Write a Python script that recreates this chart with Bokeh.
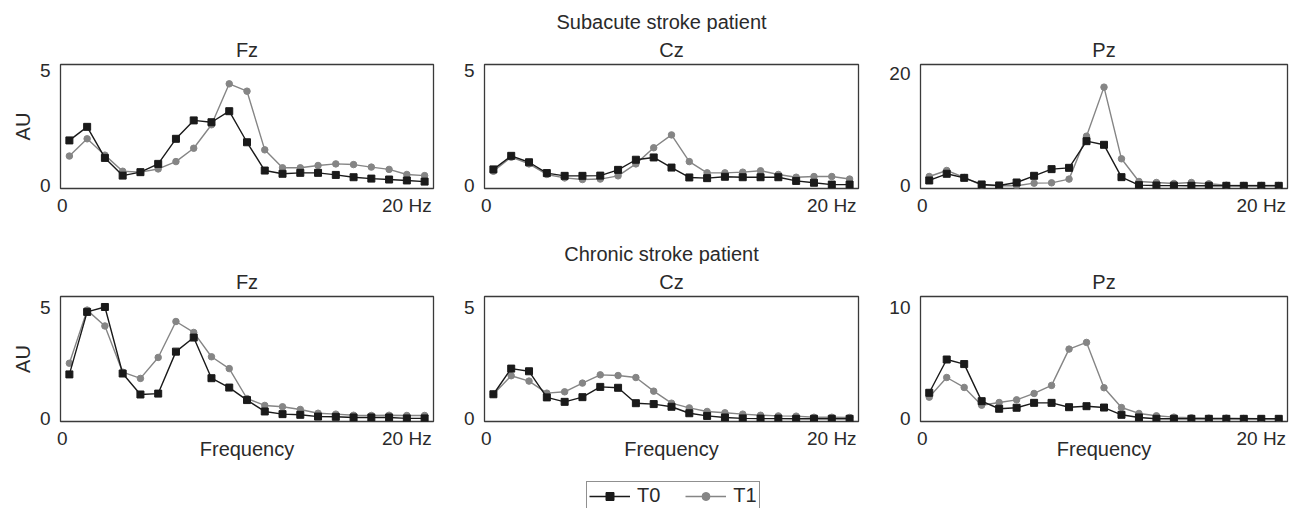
from bokeh.plotting import figure
from bokeh.layouts import column, row
from bokeh.models import FixedTicker, Range1d, Label, Legend, LegendItem, ColumnDataSource
from bokeh.embed import file_html
from bokeh.resources import INLINE

# ---------------- data ----------------
freq = [0.5, 1.5, 2.5, 3.5, 4.5, 5.5, 6.5, 7.5, 8.5, 9.5, 10.5,
        11.5, 12.5, 13.5, 14.5, 15.5, 16.5, 17.5, 18.5, 19.5, 20.5]
x_tick_pos = [0.1, 19.5]
x_tick_labels = ["0", "20 Hz"]

channels = ["Fz", "Cz", "Pz"]
group_titles = ["Subacute stroke patient", "Chronic stroke patient"]
series_names = ["T0", "T1"]

sub_fz_t0 = [1.96, 2.55, 1.20, 0.43, 0.58, 0.94, 2.03, 2.83, 2.75, 3.23, 1.88, 0.65, 0.51, 0.55, 0.55, 0.46, 0.36, 0.30, 0.26, 0.22, 0.17]
sub_fz_t1 = [1.28, 2.03, 1.32, 0.62, 0.58, 0.72, 1.04, 1.62, 2.64, 4.42, 4.10, 1.55, 0.77, 0.77, 0.87, 0.94, 0.91, 0.80, 0.70, 0.48, 0.43]
sub_cz_t0 = [0.70, 1.29, 1.01, 0.54, 0.42, 0.42, 0.43, 0.68, 1.12, 1.22, 0.78, 0.35, 0.32, 0.38, 0.36, 0.36, 0.36, 0.20, 0.12, 0.04, 0.04]
sub_cz_t1 = [0.62, 1.23, 0.94, 0.48, 0.33, 0.26, 0.28, 0.42, 0.94, 1.64, 2.20, 1.04, 0.55, 0.55, 0.58, 0.64, 0.48, 0.36, 0.39, 0.39, 0.28]
sub_pz_t0 = [0.95, 2.14, 1.42, 0.24, 0.06, 0.59, 1.78, 2.97, 3.20, 7.95, 7.30, 1.54, 0.12, 0.06, 0.03, 0.0, 0.0, 0.0, 0.0, 0.0, 0.0]
sub_pz_t1 = [1.66, 2.73, 1.48, 0.12, 0.0, 0.0, 0.47, 0.53, 1.19, 8.84, 17.57, 4.81, 0.77, 0.59, 0.42, 0.59, 0.36, 0.10, 0.05, 0.05, 0.05]

chr_fz_t0 = [1.99, 4.79, 5.01, 2.03, 1.09, 1.13, 3.01, 3.64, 1.82, 1.40, 0.84, 0.33, 0.21, 0.18, 0.10, 0.09, 0.06, 0.06, 0.06, 0.02, 0.02]
chr_fz_t1 = [2.49, 4.87, 4.16, 2.09, 1.81, 2.75, 4.36, 3.87, 2.78, 2.25, 0.91, 0.60, 0.54, 0.42, 0.25, 0.21, 0.16, 0.15, 0.16, 0.15, 0.15]
chr_cz_t0 = [1.10, 2.25, 2.13, 0.96, 0.76, 0.97, 1.43, 1.39, 0.70, 0.66, 0.54, 0.25, 0.13, 0.06, 0.02, 0.01, 0.01, 0.0, 0.0, 0.0, 0.0]
chr_cz_t1 = [1.10, 1.93, 1.69, 1.15, 1.21, 1.60, 1.97, 1.94, 1.85, 1.24, 0.70, 0.49, 0.33, 0.27, 0.21, 0.16, 0.13, 0.12, 0.07, 0.07, 0.06]
chr_pz_t0 = [2.33, 5.31, 4.90, 1.58, 0.90, 0.99, 1.43, 1.43, 1.04, 1.13, 1.01, 0.36, 0.12, 0.0, 0.0, 0.0, 0.0, 0.0, 0.0, 0.0, 0.0]
chr_pz_t1 = [1.94, 3.70, 2.81, 1.22, 1.46, 1.70, 2.27, 2.99, 6.24, 6.84, 2.78, 1.01, 0.48, 0.27, 0.15, 0.09, 0.06, 0.06, 0.03, 0.0, 0.0]

y_top = [5, 5, 20]       # top tick per column, subacute
y_top_chr = [5, 5, 10]   # top tick per column, chronic

# ---------------- style ----------------
FONT = "Liberation Sans"
TXT = "#2a2a2a"
C0 = "#1a1a1a"
C1 = "#858585"

col_widths = [458, 426, 418]
col_left = [60, 26, 36]
col_right = [25, 26, 15]


def panel(ch, t0, t1, ymax, yrange, ci, top_row):
    h = 200 if top_row else 206
    p = figure(width=col_widths[ci], height=h, output_backend="svg",
               toolbar_location=None, x_range=Range1d(0, 21),
               y_range=Range1d(*yrange))
    p.min_border_left = col_left[ci]
    p.min_border_right = col_right[ci]
    p.min_border_top = 32
    p.min_border_bottom = 44 if top_row else 49
    p.title.text = ch
    p.title.align = "center"
    p.title.text_font = FONT
    p.title.text_font_size = "20px"
    p.title.text_font_style = "normal"
    p.title.text_color = TXT
    p.title.standoff = 8
    p.grid.visible = False
    p.background_fill_color = None
    p.border_fill_color = None
    p.outline_line_color = "#3a3a3a"
    p.outline_line_width = 1.3

    for ax in (p.xaxis[0], p.yaxis[0]):
        ax.axis_line_color = None
        ax.major_tick_line_color = None
        ax.minor_tick_line_color = None
        ax.major_label_text_font = FONT
        ax.major_label_text_font_size = "19px"
        ax.major_label_text_color = TXT
        ax.axis_label_text_font = FONT
        ax.axis_label_text_font_size = "20px"
        ax.axis_label_text_font_style = "normal"
        ax.axis_label_text_color = TXT

    p.xaxis.ticker = FixedTicker(ticks=x_tick_pos)
    p.xaxis.major_label_overrides = dict(zip(x_tick_pos, x_tick_labels))
    p.xaxis.major_label_standoff = 0
    p.yaxis.ticker = FixedTicker(ticks=[0, ymax])
    p.yaxis.major_label_standoff = 4
    if ci == 0:
        p.yaxis.axis_label = "AU"
        p.yaxis.axis_label_standoff = 3
    if not top_row:
        p.xaxis.axis_label = "Frequency"
        p.xaxis.axis_label_standoff = -14

    src = ColumnDataSource(dict(f=freq, t0=t0, t1=t1))
    p.line("f", "t1", source=src, color=C1, line_width=1.4)
    p.scatter("f", "t1", source=src, marker="circle", size=6.5,
              fill_color=C1, line_color=C1)
    p.line("f", "t0", source=src, color=C0, line_width=1.4)
    p.scatter("f", "t0", source=src, marker="square", size=7,
              fill_color=C0, line_color=C0)
    return p


def header(text, h, ypos):
    p = figure(width=1302, height=h, output_backend="svg", toolbar_location=None,
               x_range=Range1d(0, 1), y_range=Range1d(0, h))
    p.axis.visible = False
    p.grid.visible = False
    p.outline_line_color = None
    p.background_fill_color = None
    p.border_fill_color = None
    p.min_border = 0
    p.add_layout(Label(x=661, x_units="screen", y=ypos, text=text,
                       text_align="center", text_baseline="middle",
                       text_font=FONT, text_font_size="20px", text_color=TXT))
    return p


yr_sub = [(-0.13, 5.26), (-0.13, 5.26), (-0.48, 21.6)]
yr_chr = [(-0.12, 5.48), (-0.12, 5.48), (-0.24, 10.95)]

sub_data = [(sub_fz_t0, sub_fz_t1), (sub_cz_t0, sub_cz_t1), (sub_pz_t0, sub_pz_t1)]
chr_data = [(chr_fz_t0, chr_fz_t1), (chr_cz_t0, chr_cz_t1), (chr_pz_t0, chr_pz_t1)]

row1 = [panel(channels[i], sub_data[i][0], sub_data[i][1], y_top[i], yr_sub[i], i, True)
        for i in range(3)]
row2 = [panel(channels[i], chr_data[i][0], chr_data[i][1], y_top_chr[i], yr_chr[i], i, False)
        for i in range(3)]

h1 = header(group_titles[0], 32, 11)
h2 = header(group_titles[1], 32, 11)

# legend strip: series drawn outside the visible range, only the legend shows
lg = figure(width=1302, height=38, output_backend="svg", toolbar_location=None,
            x_range=Range1d(0, 21), y_range=Range1d(-100, -99))
lg.axis.visible = False
lg.grid.visible = False
lg.outline_line_color = None
lg.background_fill_color = None
lg.border_fill_color = None
lg.min_border = 0
lsrc = ColumnDataSource(dict(f=freq, t0=chr_cz_t0, t1=chr_cz_t1))
l0 = lg.line("f", "t0", source=lsrc, color=C0, line_width=1.4)
s0 = lg.scatter("f", "t0", source=lsrc, marker="square", size=7, fill_color=C0, line_color=C0)
l1 = lg.line("f", "t1", source=lsrc, color=C1, line_width=1.4)
s1 = lg.scatter("f", "t1", source=lsrc, marker="circle", size=6.5, fill_color=C1, line_color=C1)
legend = Legend(items=[LegendItem(label=series_names[0], renderers=[l0, s0]),
                       LegendItem(label=series_names[1], renderers=[l1, s1])],
                orientation="horizontal", location=(586, -2))
legend.glyph_width = 41
legend.glyph_height = 20
legend.label_height = 20
legend.label_standoff = 7
legend.spacing = 25
legend.padding = 2
legend.margin = 0
legend.border_line_color = "#222222"
legend.border_line_width = 1.2
legend.background_fill_alpha = 0
legend.label_text_font = FONT
legend.label_text_font_size = "20px"
legend.label_text_color = TXT
lg.add_layout(legend, "center")

layout = column(h1, row(*row1, spacing=0), h2, row(*row2, spacing=0), lg, spacing=0)

open("out.html", "w").write(file_html(layout, INLINE))
